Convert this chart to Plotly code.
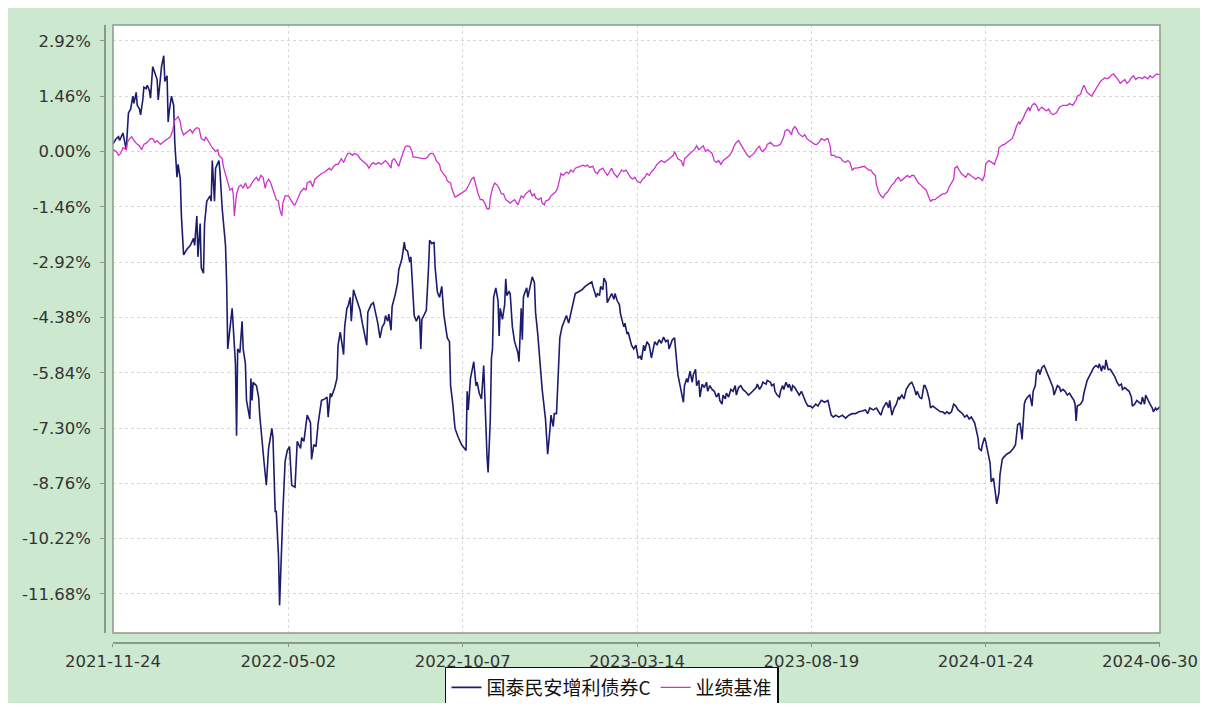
import pandas as pd
import plotly.graph_objects as go

start_date = "2021-11-24"
end_date = "2024-06-30"

fund_name = "国泰民安增利债券C"
bench_name = "业绩基准"

# (days since start, cumulative return %)
fund_points = [
    (0, 0.20), (3, 0.34), (5, 0.39), (6, 0.29), (9, 0.49), (11, 0.24), (12, 0.05), (14, 1.02),
    (16, 1.12), (18, 1.46), (19, 1.27), (21, 1.56), (22, 1.22), (24, 1.12), (25, 0.97), (27, 1.36),
    (28, 1.70), (30, 1.66), (31, 1.75), (33, 1.61), (34, 1.41), (36, 2.24), (38, 2.05), (40, 1.90),
    (41, 1.36), (43, 2.09), (44, 2.24), (46, 2.53), (47, 1.85), (49, 2.00), (50, 0.78), (51, 1.07),
    (53, 1.46), (55, 1.22), (56, 0.24), (58, -0.68), (59, -0.34), (61, -0.73), (62, -1.70), (64, -2.73),
    (67, -2.58), (70, -2.48), (73, -2.29), (74, -2.48), (76, -1.70), (77, -2.78), (79, -1.90), (80, -3.07),
    (82, -3.21), (83, -1.90), (85, -1.31), (88, -1.17), (89, -1.31), (90, -0.24), (92, -1.31), (93, -0.44),
    (96, -0.24), (97, -0.54), (99, -1.51), (102, -2.48), (103, -3.46), (104, -5.21), (106, -4.63), (108, -4.14),
    (109, -4.63), (111, -5.60), (112, -7.50), (113, -5.21), (115, -5.31), (117, -4.48), (118, -5.21), (120, -5.60),
    (121, -6.57), (124, -7.06), (125, -5.99), (126, -6.57), (127, -6.09), (130, -6.18), (132, -6.48), (133, -6.96),
    (137, -8.23), (139, -8.81), (141, -7.84), (144, -7.31), (145, -7.55), (147, -9.50), (148, -9.50), (150, -10.67),
    (151, -11.98), (153, -10.18), (154, -9.50), (156, -8.18), (158, -7.89), (160, -7.79), (162, -8.81), (165, -8.86),
    (167, -7.65), (170, -7.84), (171, -7.55), (173, -7.65), (175, -7.26), (176, -6.96), (179, -7.16), (180, -8.13),
    (182, -7.74), (184, -7.79), (186, -7.16), (189, -6.57), (192, -6.53), (194, -6.48), (195, -7.01), (197, -6.38),
    (198, -6.48), (201, -6.23), (203, -5.99), (204, -5.11), (206, -4.77), (207, -4.97), (209, -5.36), (210, -4.63),
    (212, -4.14), (213, -4.09), (215, -3.85), (216, -4.48), (218, -3.65), (219, -3.75), (222, -3.99), (224, -4.19),
    (226, -4.53), (228, -4.87), (230, -5.11), (231, -4.24), (234, -4.04), (236, -3.99), (238, -4.24), (240, -4.53),
    (242, -4.92), (244, -4.63), (246, -4.53), (247, -4.33), (249, -4.48), (250, -4.29), (252, -4.72), (253, -4.09),
    (256, -3.75), (258, -3.46), (259, -3.12), (262, -2.82), (264, -2.39), (265, -2.58), (267, -2.63), (269, -2.92),
    (270, -2.78), (272, -3.65), (273, -4.33), (275, -4.48), (277, -4.33), (278, -4.43), (279, -5.21), (280, -4.43),
    (282, -4.29), (284, -4.19), (286, -3.07), (287, -2.34), (289, -2.43), (291, -2.39), (292, -3.07), (294, -3.70),
    (296, -3.85), (298, -3.56), (300, -4.33), (303, -4.92), (305, -5.02), (306, -6.18), (308, -6.67), (310, -7.31),
    (313, -7.55), (316, -7.74), (320, -7.89), (321, -6.33), (322, -6.82), (324, -5.99), (326, -5.70), (327, -5.55),
    (329, -6.18), (330, -6.09), (332, -6.38), (334, -6.53), (336, -5.65), (337, -6.48), (338, -7.55), (339, -8.04),
    (340, -8.47), (342, -7.06), (343, -5.45), (344, -5.21), (345, -3.85), (347, -3.60), (349, -3.94), (350, -4.87),
    (351, -4.14), (353, -4.43), (355, -4.04), (356, -3.36), (357, -3.80), (359, -3.70), (360, -3.75), (362, -4.63),
    (364, -5.02), (367, -5.31), (368, -5.55), (370, -4.14), (371, -4.97), (372, -3.85), (373, -3.75), (375, -3.60),
    (376, -3.85), (378, -3.56), (380, -3.31), (382, -3.46), (383, -4.24), (385, -4.82), (387, -5.50), (389, -6.28),
    (392, -7.06), (394, -7.99), (396, -7.35), (397, -6.96), (399, -7.26), (400, -6.92), (402, -6.92), (404, -5.80),
    (405, -4.92), (407, -4.63), (409, -4.48), (411, -4.33), (413, -4.53), (415, -4.29), (417, -4.04), (419, -3.75),
    (422, -3.70), (425, -3.65), (428, -3.56), (431, -3.51), (434, -3.44), (435, -3.56), (438, -3.85), (439, -3.75),
    (441, -3.80), (442, -3.56), (444, -3.65), (445, -3.34), (447, -3.46), (448, -3.99), (450, -3.85), (452, -3.75),
    (454, -3.90), (455, -3.75), (457, -3.94), (459, -4.04), (460, -4.29), (463, -4.63), (464, -4.53), (466, -4.82),
    (467, -4.77), (469, -4.97), (470, -5.11), (472, -5.21), (474, -5.11), (476, -5.45), (478, -5.41), (479, -5.50),
    (481, -5.11), (482, -5.26), (484, -5.02), (486, -5.11), (488, -5.45), (489, -5.31), (491, -5.02), (493, -5.11),
    (495, -4.97), (497, -5.06), (499, -4.90), (501, -5.02), (503, -4.97), (504, -5.21), (506, -5.06), (507, -4.97),
    (509, -4.92), (510, -5.31), (512, -5.89), (514, -6.18), (515, -6.33), (517, -6.62), (518, -6.18), (520, -5.99),
    (521, -6.09), (523, -5.80), (525, -6.09), (526, -5.89), (528, -5.75), (529, -6.18), (531, -6.04), (532, -6.48),
    (534, -6.14), (536, -6.23), (538, -6.09), (539, -6.33), (541, -6.18), (543, -6.28), (545, -6.33), (547, -6.48),
    (549, -6.38), (550, -6.57), (552, -6.67), (553, -6.43), (555, -6.53), (556, -6.38), (558, -6.48), (560, -6.28),
    (562, -6.33), (564, -6.18), (565, -6.43), (567, -6.23), (569, -6.18), (571, -6.28), (573, -6.33), (576, -6.43),
    (578, -6.38), (580, -6.33), (583, -6.23), (584, -6.14), (586, -6.28), (588, -6.18), (589, -6.09), (592, -6.14),
    (593, -6.04), (596, -6.09), (597, -6.18), (599, -6.14), (600, -6.33), (602, -6.43), (604, -6.48), (605, -6.33),
    (607, -6.18), (608, -6.28), (610, -6.09), (612, -6.23), (613, -6.14), (615, -6.33), (616, -6.18), (618, -6.23),
    (620, -6.33), (622, -6.43), (624, -6.33), (626, -6.48), (628, -6.62), (630, -6.72), (632, -6.72), (634, -6.77),
    (636, -6.72), (637, -6.67), (639, -6.72), (642, -6.57), (645, -6.62), (647, -6.57), (648, -6.57), (651, -6.96),
    (653, -7.01), (655, -6.96), (658, -7.01), (661, -6.96), (664, -7.04), (667, -6.96), (670, -6.92), (673, -6.92),
    (676, -6.87), (679, -6.85), (682, -6.82), (684, -6.92), (686, -6.77), (689, -6.82), (692, -6.77), (694, -6.87),
    (696, -6.96), (698, -6.77), (701, -6.62), (703, -6.77), (704, -6.57), (706, -6.96), (708, -6.77), (710, -6.67),
    (712, -6.48), (713, -6.53), (715, -6.43), (717, -6.53), (719, -6.28), (722, -6.14), (724, -6.09), (726, -6.23),
    (728, -6.43), (729, -6.33), (731, -6.48), (733, -6.53), (735, -6.18), (736, -6.18), (738, -6.33), (740, -6.57),
    (741, -6.77), (743, -6.72), (745, -6.77), (747, -6.82), (750, -6.87), (752, -6.87), (754, -6.92), (756, -6.87),
    (758, -6.92), (760, -6.87), (762, -6.67), (764, -6.72), (766, -6.82), (768, -6.87), (770, -6.92), (772, -7.01),
    (774, -6.96), (776, -7.06), (778, -7.01), (781, -7.16), (782, -7.31), (784, -7.55), (785, -7.84), (787, -7.89),
    (788, -7.74), (790, -7.55), (791, -7.65), (793, -7.94), (795, -8.23), (796, -8.72), (798, -8.62), (800, -9.06),
    (801, -9.30), (803, -9.01), (804, -8.52), (806, -8.13), (807, -8.08), (810, -7.99), (813, -7.94), (816, -7.84),
    (818, -7.74), (820, -7.21), (822, -7.16), (823, -7.35), (824, -7.60), (826, -6.67), (827, -6.57), (829, -6.48),
    (831, -6.43), (832, -6.57), (833, -6.72), (834, -6.33), (836, -6.18), (837, -5.84), (839, -5.75), (840, -5.89),
    (842, -5.70), (844, -5.65), (846, -5.80), (848, -5.94), (850, -6.09), (852, -6.23), (853, -6.43), (855, -6.28),
    (856, -6.18), (858, -6.23), (859, -6.33), (861, -6.28), (863, -6.33), (865, -6.43), (867, -6.38), (869, -6.48),
    (871, -6.57), (872, -6.67), (873, -7.11), (874, -6.72), (877, -6.67), (879, -6.57), (880, -6.38), (883, -6.04),
    (885, -5.94), (887, -5.80), (889, -5.70), (891, -5.65), (893, -5.70), (894, -5.60), (896, -5.80), (897, -5.65),
    (899, -5.75), (900, -5.50), (902, -5.75), (904, -5.75), (906, -5.84), (908, -5.94), (910, -6.09), (912, -6.18),
    (914, -6.14), (915, -6.28), (917, -6.23), (919, -6.28), (921, -6.33), (923, -6.48), (924, -6.72), (926, -6.67),
    (928, -6.57), (930, -6.62), (932, -6.67), (933, -6.48), (935, -6.67), (936, -6.43), (938, -6.57), (940, -6.67),
    (942, -6.77), (943, -6.87), (945, -6.77), (946, -6.82), (948, -6.77), (949, -6.72),
]

bench_points = [
    (0, 0.05), (3, 0.00), (5, -0.10), (7, -0.05), (9, 0.10), (12, 0.05), (13, 0.24), (15, 0.34),
    (17, 0.39), (19, 0.29), (22, 0.19), (24, 0.15), (26, 0.05), (28, 0.19), (31, 0.24), (33, 0.29),
    (34, 0.34), (36, 0.34), (38, 0.24), (40, 0.29), (43, 0.19), (45, 0.24), (47, 0.29), (49, 0.34),
    (52, 0.39), (54, 0.54), (56, 0.83), (58, 0.88), (59, 0.93), (61, 0.78), (62, 0.58), (64, 0.44),
    (66, 0.49), (68, 0.54), (70, 0.58), (72, 0.49), (74, 0.58), (76, 0.63), (78, 0.61), (80, 0.34),
    (83, 0.29), (84, 0.39), (86, 0.29), (88, 0.19), (90, 0.10), (93, 0.00), (95, 0.05), (96, -0.10),
    (99, -0.19), (100, -0.39), (102, -0.58), (103, -0.73), (105, -0.93), (106, -1.02), (108, -0.97), (109, -1.12),
    (110, -1.70), (112, -1.12), (114, -0.93), (116, -0.88), (118, -0.97), (120, -0.83), (122, -0.97), (124, -0.93),
    (127, -0.78), (129, -0.73), (130, -0.68), (132, -0.78), (134, -0.63), (136, -0.68), (138, -0.97), (139, -0.83),
    (141, -0.73), (143, -0.83), (145, -1.02), (148, -1.27), (150, -1.31), (151, -1.51), (153, -1.70), (154, -1.36),
    (156, -1.17), (159, -1.17), (161, -1.27), (164, -1.41), (165, -1.41), (167, -1.27), (169, -1.17), (170, -1.07),
    (173, -0.97), (175, -1.02), (176, -0.83), (179, -0.78), (181, -0.93), (183, -0.73), (185, -0.68), (187, -0.63),
    (189, -0.58), (192, -0.54), (194, -0.49), (196, -0.44), (198, -0.49), (200, -0.39), (202, -0.34), (204, -0.34),
    (207, -0.19), (209, -0.29), (211, -0.15), (213, -0.05), (215, -0.05), (217, -0.10), (219, -0.05), (222, -0.10),
    (224, -0.19), (226, -0.24), (228, -0.29), (230, -0.34), (232, -0.44), (234, -0.34), (236, -0.29), (238, -0.34),
    (241, -0.29), (243, -0.34), (245, -0.29), (247, -0.24), (250, -0.34), (252, -0.44), (253, -0.24), (255, -0.19),
    (257, -0.29), (259, -0.39), (261, -0.19), (263, 0.00), (265, 0.13), (267, 0.15), (269, 0.13), (271, 0.00),
    (272, -0.15), (274, -0.15), (277, -0.17), (279, -0.19), (281, -0.19), (283, -0.19), (285, -0.15), (286, -0.10),
    (288, -0.05), (290, -0.05), (292, -0.15), (293, -0.24), (296, -0.34), (297, -0.49), (299, -0.58), (302, -0.68),
    (303, -0.78), (306, -0.83), (307, -0.97), (309, -1.12), (310, -1.20), (312, -1.17), (315, -1.12), (318, -1.07),
    (320, -1.02), (322, -0.91), (324, -0.78), (325, -0.73), (327, -0.68), (329, -0.93), (331, -1.12), (333, -1.27),
    (335, -1.27), (337, -1.36), (339, -1.51), (341, -1.51), (342, -1.22), (344, -0.97), (346, -0.83), (348, -0.88),
    (350, -0.97), (352, -1.12), (354, -1.12), (356, -1.27), (358, -1.31), (360, -1.36), (362, -1.31), (364, -1.27),
    (367, -1.41), (368, -1.31), (370, -1.17), (372, -1.22), (374, -1.12), (376, -1.07), (378, -1.02), (380, -1.17),
    (382, -1.12), (383, -1.22), (386, -1.27), (388, -1.22), (389, -1.36), (391, -1.41), (392, -1.31), (395, -1.27),
    (397, -1.17), (399, -1.12), (401, -1.07), (403, -0.97), (405, -0.73), (406, -0.58), (408, -0.63), (411, -0.54),
    (413, -0.58), (415, -0.49), (417, -0.54), (419, -0.44), (421, -0.42), (423, -0.39), (426, -0.36), (428, -0.39),
    (430, -0.36), (432, -0.42), (435, -0.39), (437, -0.54), (439, -0.58), (441, -0.49), (444, -0.44), (446, -0.54),
    (448, -0.63), (450, -0.54), (452, -0.44), (454, -0.58), (457, -0.68), (459, -0.58), (461, -0.49), (463, -0.52),
    (465, -0.49), (467, -0.58), (469, -0.68), (471, -0.73), (473, -0.68), (475, -0.78), (478, -0.83), (480, -0.73),
    (482, -0.68), (484, -0.58), (486, -0.63), (488, -0.54), (491, -0.44), (493, -0.34), (495, -0.29), (497, -0.24),
    (500, -0.29), (502, -0.24), (504, -0.19), (506, -0.15), (508, -0.10), (509, 0.00), (511, -0.15), (512, -0.19),
    (515, -0.24), (517, -0.39), (518, -0.19), (521, -0.10), (523, -0.05), (525, 0.00), (527, 0.05), (529, 0.15),
    (531, 0.05), (533, 0.10), (535, 0.15), (537, 0.00), (539, 0.05), (541, 0.00), (543, -0.05), (545, -0.24),
    (547, -0.29), (549, -0.24), (551, -0.34), (553, -0.24), (555, -0.19), (557, -0.15), (559, -0.10), (561, 0.00),
    (563, 0.15), (565, 0.24), (567, 0.29), (569, 0.19), (571, 0.10), (573, 0.00), (575, -0.10), (577, -0.15),
    (579, -0.10), (581, -0.05), (583, 0.05), (586, 0.15), (587, 0.05), (589, 0.00), (592, 0.10), (593, 0.19),
    (596, 0.24), (598, 0.19), (599, 0.15), (602, 0.15), (604, 0.19), (605, 0.19), (608, 0.39), (609, 0.54),
    (611, 0.58), (613, 0.54), (615, 0.44), (616, 0.58), (618, 0.66), (620, 0.58), (621, 0.49), (623, 0.44),
    (625, 0.39), (627, 0.44), (629, 0.34), (631, 0.29), (634, 0.24), (636, 0.19), (638, 0.19), (640, 0.24),
    (642, 0.34), (645, 0.29), (647, 0.34), (648, 0.34), (650, 0.15), (651, -0.10), (654, -0.10), (655, -0.15),
    (658, -0.15), (660, -0.19), (661, -0.24), (664, -0.29), (666, -0.24), (668, -0.29), (670, -0.49), (672, -0.44),
    (674, -0.44), (677, -0.42), (679, -0.39), (681, -0.39), (683, -0.44), (685, -0.49), (687, -0.49), (689, -0.58),
    (691, -0.63), (692, -0.88), (694, -1.07), (696, -1.17), (698, -1.22), (700, -1.12), (702, -1.07), (704, -0.97),
    (706, -0.88), (708, -0.83), (710, -0.73), (712, -0.68), (714, -0.78), (716, -0.73), (718, -0.68), (720, -0.63),
    (722, -0.68), (724, -0.63), (726, -0.63), (728, -0.73), (730, -0.83), (732, -0.88), (735, -0.97), (737, -1.02),
    (739, -1.17), (741, -1.31), (743, -1.27), (745, -1.27), (747, -1.22), (750, -1.17), (752, -1.12), (754, -1.12),
    (756, -1.07), (758, -0.93), (760, -0.83), (762, -0.73), (763, -0.44), (765, -0.39), (767, -0.49), (769, -0.58),
    (771, -0.63), (773, -0.68), (775, -0.58), (777, -0.63), (780, -0.68), (782, -0.73), (784, -0.68), (787, -0.73),
    (788, -0.78), (790, -0.62), (791, -0.34), (792, -0.29), (794, -0.24), (796, -0.29), (799, -0.34), (800, -0.24),
    (802, -0.10), (803, 0.10), (806, 0.17), (808, 0.19), (810, 0.24), (812, 0.29), (815, 0.34), (817, 0.49),
    (819, 0.68), (821, 0.78), (822, 0.73), (824, 0.83), (825, 0.88), (827, 1.02), (828, 1.07), (830, 1.17),
    (831, 1.07), (833, 1.22), (835, 1.27), (837, 1.22), (839, 1.07), (840, 1.12), (842, 1.17), (844, 1.12),
    (846, 1.07), (848, 1.12), (850, 1.02), (852, 0.97), (855, 1.02), (856, 1.07), (858, 1.17), (861, 1.22),
    (863, 1.22), (865, 1.22), (867, 1.27), (870, 1.22), (871, 1.27), (873, 1.36), (874, 1.46), (877, 1.51),
    (878, 1.61), (880, 1.75), (883, 1.56), (885, 1.51), (887, 1.46), (889, 1.56), (891, 1.66), (893, 1.75),
    (895, 1.85), (897, 1.90), (899, 1.95), (901, 1.92), (903, 1.95), (905, 2.02), (907, 2.05), (908, 2.00),
    (911, 1.90), (913, 1.80), (915, 1.85), (917, 1.90), (919, 1.80), (921, 1.85), (923, 1.95), (925, 2.00),
    (927, 1.90), (929, 1.95), (931, 1.95), (933, 1.92), (935, 1.98), (938, 1.92), (940, 2.00), (942, 1.95),
    (944, 2.00), (946, 2.05), (949, 2.02),
]

y_tick_values = [2.92, 1.46, 0.00, -1.46, -2.92, -4.38, -5.84, -7.30, -8.76, -10.22, -11.68]
x_tick_labels = ["2021-11-24", "2022-05-02", "2022-10-07", "2023-03-14",
                 "2023-08-19", "2024-01-24", "2024-06-30"]

t0 = pd.Timestamp(start_date)


def to_xy(points):
    days = [p[0] for p in points]
    vals = [p[1] for p in points]
    return t0 + pd.to_timedelta(days, unit="D"), vals


fx, fy = to_xy(fund_points)
bx, by = to_xy(bench_points)

# the last date label is written as a right-aligned note so it stays inside the page
x_tick_text = x_tick_labels[:-1] + [""]

GREEN = "#cce8ce"
AXIS = "#8a9a8a"
GRID = "#d8d8d8"
TICKFONT = dict(family="DejaVu Sans", size=16.5, color="#333333")

fig = go.Figure()
fig.add_trace(go.Scatter(x=fx, y=fy, mode="lines", name=fund_name,
                         line=dict(color="#1c1c6e", width=1.6)))
fig.add_trace(go.Scatter(x=bx, y=by, mode="lines", name=bench_name,
                         line=dict(color="#cc33cc", width=1.3)))

fig.update_layout(
    width=1192, height=695,
    margin=dict(l=97, r=40, t=17, b=60, pad=0),
    paper_bgcolor=GREEN,
    plot_bgcolor="white",
    showlegend=True,
    legend=dict(orientation="h", xref="container", yref="container",
                x=0.5067, xanchor="center", y=0.0518, yanchor="top",
                bgcolor="white", bordercolor="#111111", borderwidth=1.5,
                font=dict(family="Noto Sans CJK SC", size=19, color="#111111"),
                itemwidth=30, tracegroupgap=0),
    xaxis=dict(
        type="date",
        domain=[0.00758, 1],
        anchor="free", position=0,
        range=[pd.Timestamp(start_date), pd.Timestamp(end_date)],
        tickvals=list(pd.to_datetime(x_tick_labels)),
        ticktext=x_tick_text,
        showline=True, linecolor=AXIS, linewidth=1.5,
        ticks="outside", ticklen=3, tickcolor=AXIS,
        showgrid=True, gridcolor=GRID, griddash="3px,3px", gridwidth=1,
        zeroline=False,
        tickfont=TICKFONT,
        ticklabelstandoff=0,
        automargin=False,
    ),
    yaxis=dict(
        domain=[0.01618, 1],
        anchor="free", position=0,
        range=[-12.71, 3.34],
        tickvals=y_tick_values,
        ticktext=[f"{v:.2f}%" for v in y_tick_values],
        showline=True, linecolor=AXIS, linewidth=1.5,
        ticks="outside", ticklen=4, tickcolor=AXIS,
        showgrid=True, gridcolor=GRID, griddash="3px,3px", gridwidth=1,
        zeroline=False,
        tickfont=TICKFONT,
        ticklabelstandoff=6,
        automargin=False,
    ),
)

fig.add_annotation(x=pd.Timestamp(x_tick_labels[-1]), xref="x", y=0, yref="paper",
                   text=x_tick_labels[-1], showarrow=False, font=TICKFONT,
                   xanchor="right", xshift=39, yanchor="top", yshift=-8, borderpad=0)

# plot-area frame
fig.add_shape(type="rect", xref="x domain", yref="y domain", x0=0, x1=1, y0=0, y1=1,
              line=dict(color=AXIS, width=1.5), fillcolor="rgba(0,0,0,0)", layer="above")

fig.write_html("out.html")
